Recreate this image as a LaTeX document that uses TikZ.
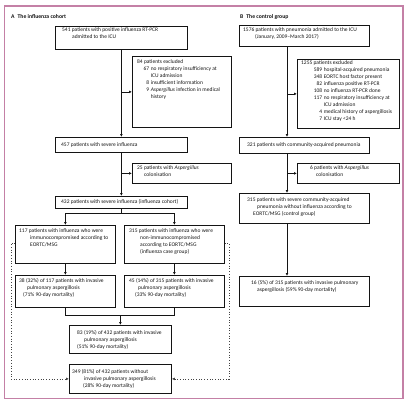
\documentclass[tikz,border=0pt]{standalone}
\usepackage{fontspec}
\setmainfont{Carlito}
\usetikzlibrary{arrows.meta}
\definecolor{frameclr}{RGB}{196,128,166}
\definecolor{ink}{RGB}{20,20,20}
\newcommand{\tb}[1]{\parbox[t]{160bp}{\raggedright #1}}
\newcommand{\nm}[2]{\makebox[#1][r]{#2}\hspace{1.6bp}}
\tikzset{
  box/.style={draw=ink, line width=0.8bp, inner sep=0pt, anchor=north west},
  txt/.style={inner sep=0pt, anchor=base west, text=ink, font=\fontsize{5.5bp}{6.9bp}\selectfont},
  ttl/.style={inner sep=0pt, anchor=base west, text=ink, font=\fontsize{5.7bp}{6.9bp}\selectfont\bfseries},
  conn/.style={draw=ink, line width=0.7bp},
  arr/.style={conn, -{Latex[length=3bp,width=2.8bp]}},
  dots/.style={draw=ink!80, line width=0.7bp, dotted},
  darr/.style={dots, -{Latex[length=3bp,width=2.8bp]}},
}
\begin{document}
\begin{tikzpicture}[x=1bp,y=-1bp]
\useasboundingbox (0,0) rectangle (409,404);
\draw[frameclr, line width=1.2bp] (4.5,6) rectangle (403,398.5);

% titles
\node[ttl] (tA) at (11,18) {A\hspace{3bp}The influenza cohort};
\node[ttl] (tB) at (240,18) {B\hspace{3bp}The control group};

% ---- panel A boxes
\node[box, minimum width=132bp, minimum height=23bp] (a1) at (55,26) {};
\node[box, minimum width=99bp, minimum height=71bp] (exA) at (132,56) {};
\node[box, minimum width=132bp, minimum height=15bp] (a457) at (55,137) {};
\node[box, minimum width=99bp, minimum height=20bp] (colA) at (132,163) {};
\node[box, minimum width=132bp, minimum height=12bp] (a432) at (55,196) {};
\node[box, minimum width=100bp, minimum height=38bp] (a117) at (15,225) {};
\node[box, minimum width=100bp, minimum height=38bp] (a315) at (124,225) {};
\node[box, minimum width=100bp, minimum height=32bp] (a38) at (15,275) {};
\node[box, minimum width=100bp, minimum height=32bp] (a45) at (124,275) {};
\node[box, minimum width=102bp, minimum height=28bp] (a83) at (69,325) {};
\node[box, minimum width=102bp, minimum height=29bp] (a349) at (69,364) {};

% ---- panel B boxes
\node[box, minimum width=130bp, minimum height=21bp] (b1) at (239,25) {};
\node[box, minimum width=102bp, minimum height=69bp] (exB) at (297,59) {};
\node[box, minimum width=130bp, minimum height=16bp] (b321) at (239,137) {};
\node[box, minimum width=102bp, minimum height=20bp] (colB) at (297,163) {};
\node[box, minimum width=130bp, minimum height=30bp] (b315) at (239,193) {};
\node[box, minimum width=130bp, minimum height=30bp] (b16) at (239,276) {};

% ---- texts A
\node[txt] (a1t) at (62,31.8) {\tb{541 patients with positive influenza RT-PCR\\\hspace*{10bp}admitted to the ICU}};
\node[txt] (exAt) at (137,63.8) {\tb{84 patients excluded\\
\hspace*{4bp}\nm{8bp}{67}no respiratory insufficiency at\\
\hspace*{4bp}\nm{8bp}{}ICU admission\\
\hspace*{4bp}\nm{8bp}{8}insufficient information\\
\hspace*{4bp}\nm{8bp}{9}\textit{Aspergillus} infection in medical\\
\hspace*{4bp}\nm{8bp}{}history}};
\node[txt] (a457t) at (61,146.5) {\tb{457 patients with severe influenza}};
\node[txt] (colAt) at (137,169.8) {\tb{25 patients with \textit{Aspergillus}\\\hspace*{7bp}colonisation}};
\node[txt] (a432t) at (61,203.8) {\tb{432 patients with severe influenza (influenza cohort)}};
\node[txt] (a117t) at (19,232.8) {\tb{117 patients with influenza who were\\\hspace*{11bp}immunocompromised according to\\\hspace*{11bp}EORTC/MSG}};
\node[txt] (a315t) at (129,232.8) {\tb{315 patients with influenza who were\\\hspace*{11bp}non-immunocompromised\\\hspace*{11bp}according to EORTC/MSG\\\hspace*{11bp}(influenza case group)}};
\node[txt] (a38t) at (19,282.8) {\tb{38 (32\%) of 117 patients with invasive\\\hspace*{8bp}pulmonary aspergillosis\\\hspace*{4bp}(71\% 90-day mortality)}};
\node[txt] (a45t) at (129,282.8) {\tb{45 (14\%) of 315 patients with invasive\\\hspace*{9bp}pulmonary aspergillosis\\\hspace*{6bp}(33\% 90-day mortality)}};
\node[txt] (a83t) at (77,334.5) {\tb{83 (19\%) of 432 patients with invasive\\\hspace*{7bp}pulmonary aspergillosis\\(51\% 90-day mortality)}};
\node[txt] (a349t) at (72,373.5) {\tb{349 (81\%) of 432 patients without\\\hspace*{12bp}invasive pulmonary aspergillosis\\\hspace*{11bp}(28\% 90-day mortality)}};

% ---- texts B
\node[txt] (b1t) at (243,31.8) {\tb{1576 patients with pneumonia admitted to the ICU\\\hspace*{12bp}(January, 2009--March 2017)}};
\node[txt] (exBt) at (301,64.8) {\tb{1255 patients excluded\\
\hspace*{7bp}\nm{14bp}{589}hospital-acquired pneumonia\\
\hspace*{7bp}\nm{14bp}{348}EORTC host factor present\\
\hspace*{7bp}\nm{14bp}{82}influenza positive RT-PCR\\
\hspace*{7bp}\nm{14bp}{108}no influenza RT-PCR done\\
\hspace*{7bp}\nm{14bp}{117}no respiratory insufficiency at\\
\hspace*{7bp}\nm{14bp}{}ICU admission\\
\hspace*{7bp}\nm{14bp}{4}medical history of aspergillosis\\
\hspace*{7bp}\nm{14bp}{7}ICU stay <24 h}};
\node[txt] (b321t) at (247,146.8) {\tb{321 patients with community-acquired pneumonia}};
\node[txt] (colBt) at (310,169.8) {\tb{6 patients with \textit{Aspergillus}\\\hspace*{6bp}colonisation}};
\node[txt] (b315t) at (247,201.8) {\tb{315 patients with severe community-acquired\\\hspace*{10bp}pneumonia without influenza according to\\\hspace*{6bp}EORTC/MSG (control group)}};
\node[txt] (b16t) at (251,284.8) {\tb{16 (5\%) of 315 patients with invasive pulmonary\\\hspace*{6bp}aspergillosis (59\% 90-day mortality)}};

% ---- connectors A
\draw[arr] (a1.south) -- (a457.north);
\draw[arr] (exA.west -| a1.south) -- (exA.west);
\draw[arr] (a457.south) -- (a432.north);
\draw[arr] (colA.west -| a457.south) -- (colA.west);
\coordinate (split) at (121,213);
\draw[conn] (a432.south) -- (a432.south |- split);
\draw[conn] (a117.north |- split) -- (a315.north |- split);
\draw[arr] (a117.north |- split) -- (a117.north);
\draw[arr] (a315.north |- split) -- (a315.north);
\draw[arr] (a117.south) -- (a38.north);
\draw[arr] (a315.south) -- (a45.north);
\coordinate (merge) at (120,315);
\draw[conn] (a38.south) -- (a38.south |- merge) -- (a45.south |- merge) -- (a45.south);
\draw[arr] (a83.north |- merge) -- (a83.north);
\coordinate (dl) at (11,243);
\coordinate (dr) at (229,243);
\draw[darr] (a117.west |- dl) -- (dl) -- (dl |- a349.west) -- (a349.west);
\draw[darr] (a315.east |- dr) -- (dr) -- (dr |- a349.east) -- (a349.east);

% ---- connectors B
\coordinate (bx) at (287,0);
\draw[arr] (b1.south -| bx) -- (b321.north -| bx);
\draw[arr] (exB.west -| bx) -- (exB.west);
\draw[arr] (b321.south -| bx) -- (b315.north -| bx);
\draw[arr] (colB.west -| bx) -- (colB.west);
\draw[arr] (b315.south -| bx) -- (b16.north -| bx);
\end{tikzpicture}
\end{document}
